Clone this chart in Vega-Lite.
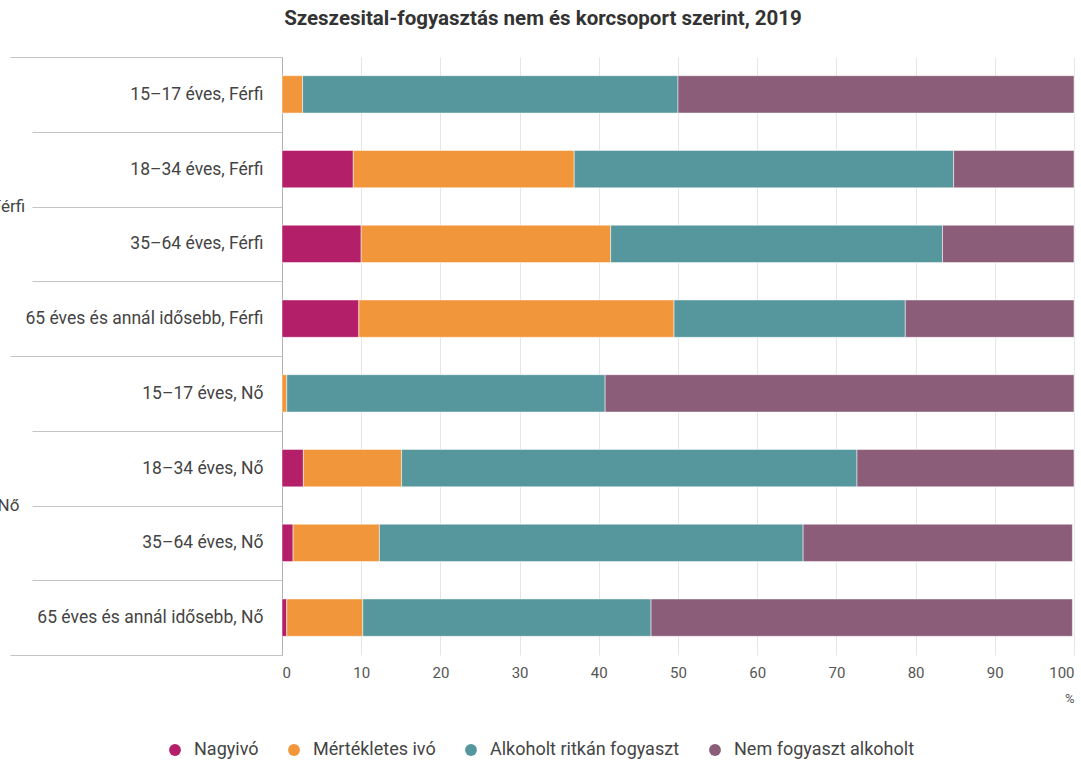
{
  "$schema": "https://vega.github.io/schema/vega-lite/v6.json",
  "autosize": {"type": "none"},
  "padding": {"left": 282, "top": 57, "right": 7, "bottom": 107},
  "width": 792,
  "height": 598,
  "config": {
    "font": "Roboto",
    "view": {"stroke": null},
    "background": "white"
  },
  "title": {
    "text": "Szeszesital-fogyasztás nem és korcsoport szerint, 2019",
    "fontSize": 20.5,
    "fontWeight": "bold",
    "color": "#333333",
    "anchor": "middle",
    "dx": -135,
    "offset": 19
  },
  "data": {
    "values": [
      {"label": "15–17 éves, Férfi", "gender": "Férfi", "cat": "Nagyivó", "ord": 1, "value": 0},
      {"label": "15–17 éves, Férfi", "gender": "Férfi", "cat": "Mértékletes ivó", "ord": 2, "value": 2.6},
      {"label": "15–17 éves, Férfi", "gender": "Férfi", "cat": "Alkoholt ritkán fogyaszt", "ord": 3, "value": 47.4},
      {"label": "15–17 éves, Férfi", "gender": "Férfi", "cat": "Nem fogyaszt alkoholt", "ord": 4, "value": 50.0},
      {"label": "18–34 éves, Férfi", "gender": "Férfi", "cat": "Nagyivó", "ord": 1, "value": 9.0},
      {"label": "18–34 éves, Férfi", "gender": "Férfi", "cat": "Mértékletes ivó", "ord": 2, "value": 27.9},
      {"label": "18–34 éves, Férfi", "gender": "Férfi", "cat": "Alkoholt ritkán fogyaszt", "ord": 3, "value": 47.9},
      {"label": "18–34 éves, Férfi", "gender": "Férfi", "cat": "Nem fogyaszt alkoholt", "ord": 4, "value": 15.2},
      {"label": "35–64 éves, Férfi", "gender": "Férfi", "cat": "Nagyivó", "ord": 1, "value": 10.0},
      {"label": "35–64 éves, Férfi", "gender": "Férfi", "cat": "Mértékletes ivó", "ord": 2, "value": 31.5},
      {"label": "35–64 éves, Férfi", "gender": "Férfi", "cat": "Alkoholt ritkán fogyaszt", "ord": 3, "value": 41.9},
      {"label": "35–64 éves, Férfi", "gender": "Férfi", "cat": "Nem fogyaszt alkoholt", "ord": 4, "value": 16.6},
      {"label": "65 éves és annál idősebb, Férfi", "gender": "Férfi", "cat": "Nagyivó", "ord": 1, "value": 9.7},
      {"label": "65 éves és annál idősebb, Férfi", "gender": "Férfi", "cat": "Mértékletes ivó", "ord": 2, "value": 39.8},
      {"label": "65 éves és annál idősebb, Férfi", "gender": "Férfi", "cat": "Alkoholt ritkán fogyaszt", "ord": 3, "value": 29.2},
      {"label": "65 éves és annál idősebb, Férfi", "gender": "Férfi", "cat": "Nem fogyaszt alkoholt", "ord": 4, "value": 21.3},
      {"label": "15–17 éves, Nő", "gender": "Nő", "cat": "Nagyivó", "ord": 1, "value": 0},
      {"label": "15–17 éves, Nő", "gender": "Nő", "cat": "Mértékletes ivó", "ord": 2, "value": 0.6},
      {"label": "15–17 éves, Nő", "gender": "Nő", "cat": "Alkoholt ritkán fogyaszt", "ord": 3, "value": 40.2},
      {"label": "15–17 éves, Nő", "gender": "Nő", "cat": "Nem fogyaszt alkoholt", "ord": 4, "value": 59.2},
      {"label": "18–34 éves, Nő", "gender": "Nő", "cat": "Nagyivó", "ord": 1, "value": 2.7},
      {"label": "18–34 éves, Nő", "gender": "Nő", "cat": "Mértékletes ivó", "ord": 2, "value": 12.4},
      {"label": "18–34 éves, Nő", "gender": "Nő", "cat": "Alkoholt ritkán fogyaszt", "ord": 3, "value": 57.5},
      {"label": "18–34 éves, Nő", "gender": "Nő", "cat": "Nem fogyaszt alkoholt", "ord": 4, "value": 27.4},
      {"label": "35–64 éves, Nő", "gender": "Nő", "cat": "Nagyivó", "ord": 1, "value": 1.4},
      {"label": "35–64 éves, Nő", "gender": "Nő", "cat": "Mértékletes ivó", "ord": 2, "value": 10.9},
      {"label": "35–64 éves, Nő", "gender": "Nő", "cat": "Alkoholt ritkán fogyaszt", "ord": 3, "value": 53.5},
      {"label": "35–64 éves, Nő", "gender": "Nő", "cat": "Nem fogyaszt alkoholt", "ord": 4, "value": 34.0},
      {"label": "65 éves és annál idősebb, Nő", "gender": "Nő", "cat": "Nagyivó", "ord": 1, "value": 0.6},
      {"label": "65 éves és annál idősebb, Nő", "gender": "Nő", "cat": "Mértékletes ivó", "ord": 2, "value": 9.6},
      {"label": "65 éves és annál idősebb, Nő", "gender": "Nő", "cat": "Alkoholt ritkán fogyaszt", "ord": 3, "value": 36.4},
      {"label": "65 éves és annál idősebb, Nő", "gender": "Nő", "cat": "Nem fogyaszt alkoholt", "ord": 4, "value": 53.2}
    ]
  },
  "resolve": {"scale": {"y": "independent"}, "axis": {"y": "independent"}},
  "layer": [
    {
      "mark": {"type": "bar", "height": {"band": 0.5}, "stroke": "white", "strokeWidth": 0.5},
      "encoding": {
        "y": {
          "field": "label",
          "type": "nominal",
          "sort": null,
          "scale": {"paddingInner": 0, "paddingOuter": 0},
          "axis": {
            "orient": "left",
            "title": null,
            "tickBand": "extent",
            "tickSize": 250,
            "tickColor": "#c4c4c4",
            "tickWidth": 1,
            "domain": true,
            "domainColor": "#b0b0b0",
            "labelPadding": -231,
            "labelFontSize": 17.5,
            "labelLimit": 400,
            "labelColor": "#444444",
            "labelAlign": "right",
            "labelBaseline": "middle"
          }
        },
        "x": {
          "field": "value",
          "type": "quantitative",
          "stack": "zero",
          "scale": {"domain": [0, 100], "nice": false},
          "axis": {
            "values": [0, 10, 20, 30, 40, 50, 60, 70, 80, 90, 100],
            "grid": true,
            "gridColor": "#e6e6e6",
            "domain": false,
            "ticks": false,
            "labelPadding": 10,
            "labelFontSize": 15,
            "labelColor": "#555555",
            "title": "%",
            "titleAnchor": "end",
            "titleAlign": "right",
            "titleFontWeight": "normal",
            "titleFontSize": 13,
            "titleColor": "#555555",
            "titlePadding": 12
          }
        },
        "color": {
          "field": "cat",
          "type": "nominal",
          "scale": {
            "domain": ["Nagyivó", "Mértékletes ivó", "Alkoholt ritkán fogyaszt", "Nem fogyaszt alkoholt"],
            "range": ["#b31f68", "#f2963b", "#55979c", "#8c5d79"]
          },
          "legend": {
            "orient": "none",
            "legendX": -116,
            "legendY": 684,
            "direction": "horizontal",
            "title": null,
            "symbolType": "circle",
            "symbolSize": 140,
            "symbolStrokeWidth": 0,
            "labelFontSize": 18,
            "labelLimit": 400,
            "labelColor": "#444444",
            "labelOffset": 10,
            "columnPadding": 26,
            "padding": 0
          }
        },
        "order": {"field": "ord", "type": "quantitative"}
      }
    },
    {
      "mark": {"type": "point", "opacity": 0},
      "encoding": {
        "y": {
          "field": "gender",
          "type": "nominal",
          "sort": ["Férfi", "Nő"],
          "scale": {"paddingInner": 0, "paddingOuter": 0},
          "axis": {
            "orient": "left",
            "title": null,
            "tickBand": "extent",
            "tickSize": 272,
            "tickColor": "#c4c4c4",
            "tickWidth": 1,
            "domain": false,
            "labelPadding": 2,
            "labelFontSize": 17,
            "labelColor": "#444444",
            "labelAlign": "center",
            "labelBaseline": "middle"
          }
        }
      }
    }
  ]
}
